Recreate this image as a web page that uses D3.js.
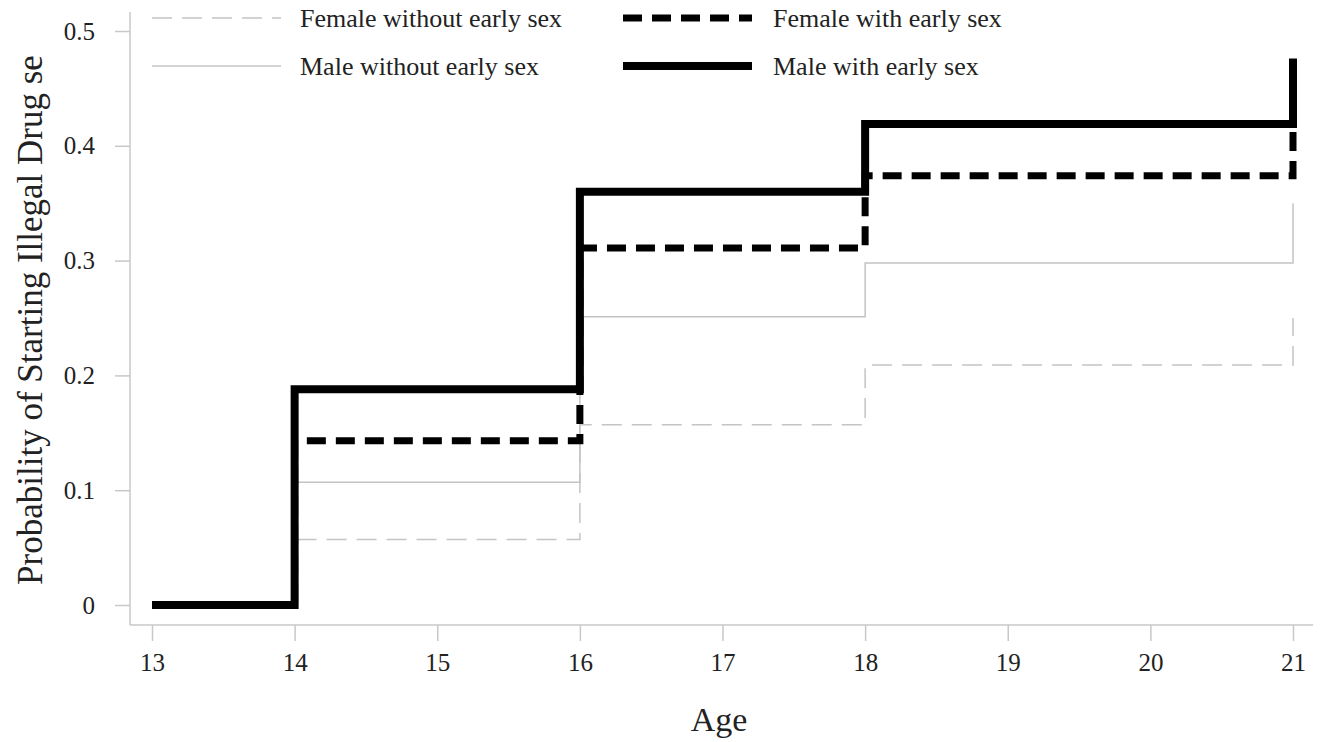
<!DOCTYPE html>
<html>
<head>
<meta charset="utf-8">
<script src="https://cdn.jsdelivr.net/npm/d3@7"></script>
<style>
  body { margin: 0; background: #fff; }
  text { font-family: "Liberation Serif", "Times New Roman", serif; fill: #222; }
</style>
</head>
<body>
<svg id="chart" width="1321" height="742"></svg>
<script>
// ages where the step changes, and the probability reached at each age
var ages = [13, 14, 16, 18, 21]
var femaleNoSex = [0, 0.057, 0.157, 0.209, 0.25]
var maleNoSex = [0, 0.107, 0.251, 0.298, 0.35]
var femaleSex = [0, 0.143, 0.311, 0.374, 0.43]
var maleSex = [0, 0.188, 0.36, 0.419, 0.476]

var xTicks = [13, 14, 15, 16, 17, 18, 19, 20, 21]
var yTicks = [0, 0.1, 0.2, 0.3, 0.4, 0.5]
var seriesNames = ["Female without early sex", "Male without early sex", "Female with early sex", "Male with early sex"]

var width = 1321, height = 742

var svg = d3.select("#chart")

var x = d3.scaleLinear().domain([13, 21]).range([152, 1293])
var y = d3.scaleLinear().domain([0, 0.5]).range([605, 31])

// frame lines
svg.append("line")
  .attr("x1", 130).attr("x2", 130)
  .attr("y1", 12).attr("y2", 625)
  .attr("stroke", "#c8c8c8").attr("stroke-width", 1.5)
svg.append("line")
  .attr("x1", 130).attr("x2", 1313)
  .attr("y1", 625).attr("y2", 625)
  .attr("stroke", "#c8c8c8").attr("stroke-width", 1.5)

var yAxis = d3.axisLeft(y)
  .tickValues(yTicks)
  .tickSize(15)
  .tickPadding(20)
  .tickFormat(function(d){ return d === 0 ? "0" : d3.format(".1f")(d) })

var yg = svg.append("g")
  .attr("transform", "translate(130,0)")
  .call(yAxis)
yg.select(".domain").remove()

var xAxis = d3.axisBottom(x)
  .tickValues(xTicks)
  .tickSize(16)
  .tickPadding(12)
  .tickFormat(d3.format("d"))

var xg = svg.append("g")
  .attr("transform", "translate(0,625)")
  .call(xAxis)
xg.select(".domain").remove()

svg.selectAll(".tick line").attr("stroke", "#c8c8c8").attr("stroke-width", 1.5)
svg.selectAll(".tick text")
  .style("font-family", "'Liberation Serif', 'Times New Roman', serif")
  .style("font-size", "25px")
  .attr("fill", "#222")

// axis titles
svg.append("text")
  .attr("x", 719)
  .attr("y", 731)
  .attr("text-anchor", "middle")
  .style("font-size", "34px")
  .text("Age")

svg.append("text")
  .attr("transform", "translate(42,320) rotate(-90)")
  .attr("text-anchor", "middle")
  .style("font-size", "35px")
  .text("Probability of Starting Illegal Drug se")

var styles = [
  {color: "#c4c4c4", width: 1.5, dash: "20,10"},
  {color: "#c4c4c4", width: 1.5, dash: null},
  {color: "#000", width: 7, dash: "19,10"},
  {color: "#000", width: 8, dash: null}
]

var line = d3.line()
  .x(function(d){ return x(d[0]) })
  .y(function(d){ return y(d[1]) })
  .curve(d3.curveStepAfter)

var series = [femaleNoSex, maleNoSex, femaleSex, maleSex]

svg.selectAll(".series")
  .data(series)
  .enter()
  .append("path")
  .attr("class", "series")
  .attr("fill", "none")
  .attr("stroke", function(d, i){ return styles[i].color })
  .attr("stroke-width", function(d, i){ return styles[i].width })
  .attr("stroke-dasharray", function(d, i){ return styles[i].dash })
  .attr("d", function(vals){
    return line(ages.map(function(a, j){ return [a, vals[j]] }))
  })

// legend, two columns
var legendPos = [[152, 18], [152, 66], [623, 18], [623, 66]]

var legend = svg.selectAll(".legend")
  .data(seriesNames)
  .enter()
  .append("g")
  .attr("class", "legend")
  .attr("transform", function(d, i){ return "translate(" + legendPos[i][0] + "," + legendPos[i][1] + ")" })

legend.append("line")
  .attr("x1", 0).attr("x2", 129)
  .attr("y1", 0).attr("y2", 0)
  .attr("stroke", function(d, i){ return styles[i].color })
  .attr("stroke-width", function(d, i){ return styles[i].width })
  .attr("stroke-dasharray", function(d, i){ return styles[i].dash })

legend.append("text")
  .attr("x", function(d, i){ return i < 2 ? 148 : 150 })
  .attr("y", 9)
  .style("font-size", "26px")
  .text(function(d){ return d })
</script>
</body>
</html>
